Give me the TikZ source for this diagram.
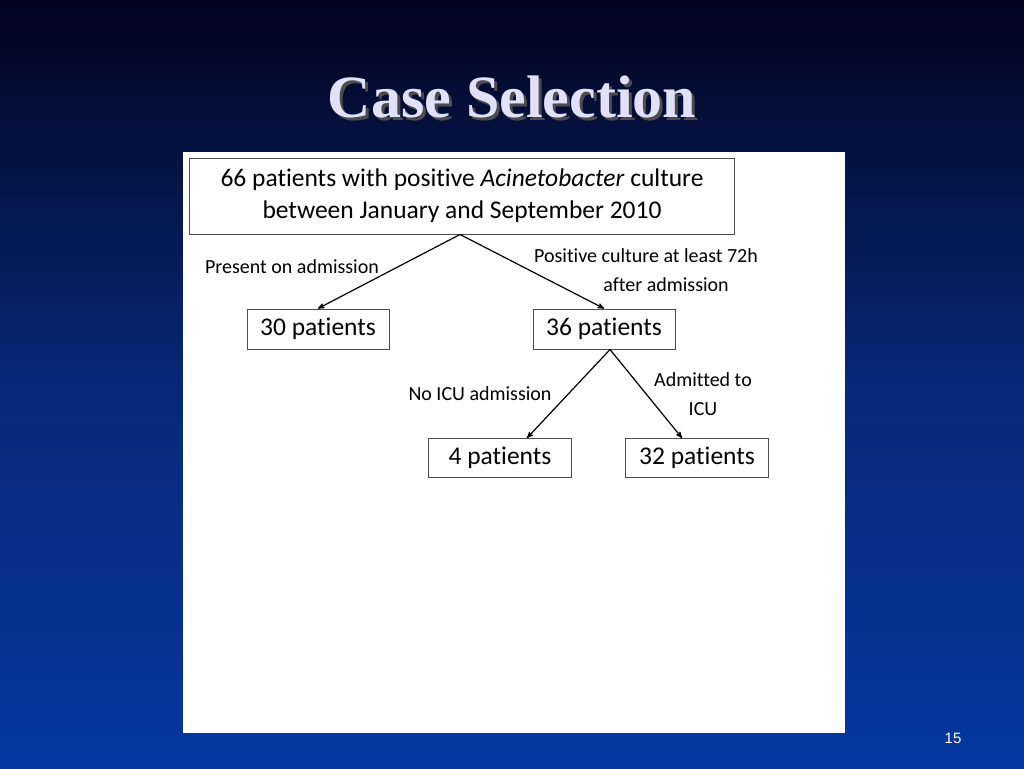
\documentclass[tikz,border=0pt]{standalone}
\usepackage{fontspec}
\setmainfont{Carlito}[Ligatures=NoCommon]
\newfontfamily\titlefont{Liberation Serif}
\newfontfamily\numfont{Liberation Sans}
\usetikzlibrary{arrows}
\definecolor{slidetop}{RGB}{2,4,30}
\definecolor{slidemid}{RGB}{8,40,120}
\definecolor{slidebot}{RGB}{5,55,160}
\definecolor{titlecol}{RGB}{225,225,250}
\begin{document}
\begin{tikzpicture}[x=1pt,y=-1pt,
>=stealth',
box/.style={draw=black!70,line width=1pt,fill=white,align=center,inner sep=0pt},
lbl/.style={font=\fontsize{20}{29}\selectfont,align=center,inner sep=0pt}]
% slide background
\shade[top color=slidetop,bottom color=slidebot,middle color=slidemid] (0,0) rectangle (1024,768);
\useasboundingbox (0,0) rectangle (1024,768);
\node[text=black!70] at (515,100) {\titlefont\bfseries\fontsize{60}{70}\selectfont Case Selection};
\node(title)[text=titlecol] at (512,97) {\titlefont\bfseries\fontsize{60}{70}\selectfont Case Selection};
\node(page)[text=white] at (953,738) {\numfont\fontsize{15}{17}\selectfont 15};
\fill[white] (183,152) rectangle (845,733);

\node[box,minimum width=545,minimum height=76,font=\fontsize{25.5}{35}\selectfont](all) at (462,196)
 {\raisebox{-3pt}{66 patients with positive \textit{Acinetobacter} culture}\\between January and September 2010};
\node[box,minimum width=142,minimum height=40,font=\fontsize{25.5}{28}\selectfont](p30) at (318,329){\raisebox{-2pt}{30 patients}};
\node[box,minimum width=142,minimum height=40,font=\fontsize{25.5}{28}\selectfont](p36) at (604,329){\raisebox{-2pt}{36 patients}};
\node[box,minimum width=143,minimum height=39,font=\fontsize{25.5}{28}\selectfont](p4) at (500,458){\raisebox{-2pt}{4 patients}};
\node[box,minimum width=143,minimum height=39,font=\fontsize{25.5}{28}\selectfont](p32) at (697,458){\raisebox{-2pt}{32 patients}};

\draw[->,line width=1.2pt] ([xshift=-2]all.south) -- (p30.north);
\draw[->,line width=1.2pt] ([xshift=-2]all.south) -- (p36.north);
\draw[->,line width=1.2pt] ([xshift=6]p36.south) -- ([xshift=27]p4.north);
\draw[->,line width=1.2pt] ([xshift=6]p36.south) -- ([xshift=-15]p32.north);

\node[lbl](l1) at (292,267){Present on admission};
\node[lbl](l2) at (646,270){Positive culture at least 72h\\\hspace*{2em}after admission};
\node[lbl](l3) at (480,394){No ICU admission};
\node[lbl](l4) at (703,394){Admitted to\\ICU};
\end{tikzpicture}
\end{document}
